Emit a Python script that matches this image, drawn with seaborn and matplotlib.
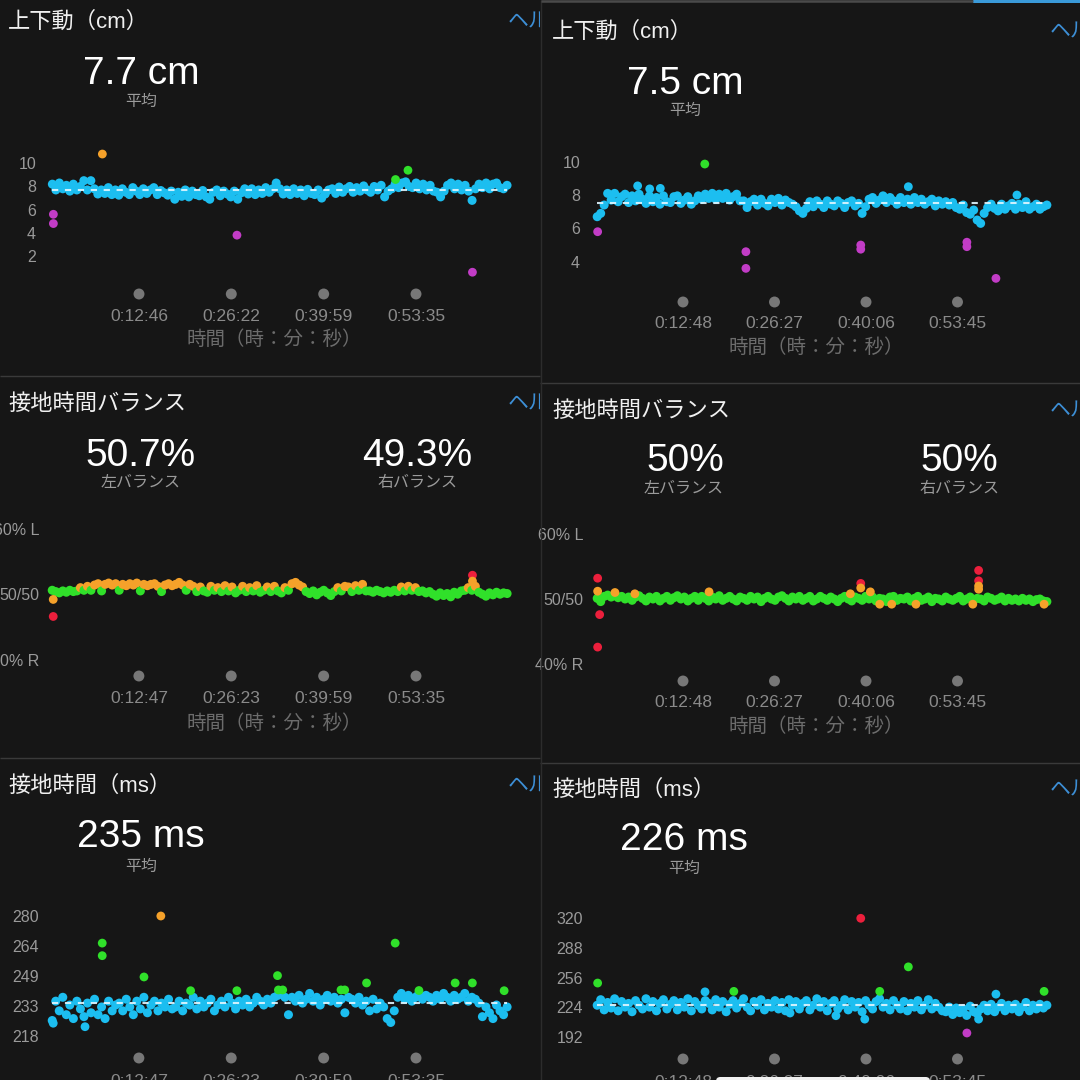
import numpy as np
import pandas as pd
import matplotlib
matplotlib.use("Agg")
import matplotlib.pyplot as plt
import seaborn as sns
from matplotlib.transforms import Bbox, TransformedBbox
from matplotlib.lines import Line2D
from matplotlib.patches import Rectangle, FancyBboxPatch

# ======================= DATA =======================
# ---- left column (run A) ----
A_TICKS_S = [766, 1582, 2399, 3215]
A_VO_TICK_LABELS = ["0:12:46", "0:26:22", "0:39:59", "0:53:35"]
A_BAL_TICK_LABELS = ["0:12:47", "0:26:23", "0:39:59", "0:53:35"]
A_GCT_TICK_LABELS = ["0:12:47", "0:26:23", "0:39:59", "0:53:35"]
A_SPAN_S = (0, 4020)

A_VO_AVG = 7.7
A_VO = [8.2, 7.7,
        8.3, 7.8, 8.1, 7.6, 8.2, 7.7, 8.0,
        8.5, 7.7, 8.5,
        7.8, 7.35, 7.7, 7.4, 7.9, 7.3, 7.7, 7.25, 7.8, 7.5, 7.3, 7.9, 7.6, 7.3, 7.8, 7.4, 7.7, 7.9, 7.3, 7.65,
        7.45, 7.25,
        7.6, 6.9, 7.5, 7.15, 7.7, 7.1, 7.6, 7.3, 7.2, 7.65, 7.1, 6.9, 7.5, 7.7, 7.2, 7.6, 7.35, 7.1, 7.6, 6.9,
        7.45,
        7.8, 7.35, 7.8, 7.3, 7.7, 7.4, 7.9, 7.5, 7.8, 8.3,
        7.8, 7.35, 7.7, 7.3, 7.8, 7.4, 7.7, 7.2, 7.75, 7.4, 7.3, 7.7, 7.0,
        7.35, 7.7, 7.8, 7.4, 7.95, 7.5, 7.8, 8.0, 7.5, 7.9, 7.6, 8.05, 7.7, 7.5, 8.0, 7.7, 8.1,
        7.1, 7.6,
        7.8, 8.2, 7.9, 8.3, 8.4, 8.0, 7.9, 8.3, 7.8, 8.2, 7.7, 8.1, 7.6,
        7.5, 7.1, 7.6,
        8.1, 8.3, 7.8, 8.2, 7.7, 8.1, 7.6, 6.8,
        7.8, 8.2, 7.9, 8.3, 7.8, 8.2, 8.3, 7.9, 7.8, 8.1]
A_VO_EXTRA_T = [9, 9, 1632, 3714, 442, 3034, 3144]
A_VO_EXTRA_V = [5.6, 4.8, 3.8, 0.6, 10.8, 8.6, 9.4]
A_VO_EXTRA_ZONE = ["purple", "purple", "purple", "purple", "orange", "green", "green"]

A_BAL_L, A_BAL_R = "50.7%", "49.3%"
A_BAL = [50.6, 50.4, 50.2, 50.5, 50.3, 50.6, 50.4, 50.5, 51.0, 50.6,
         51.2, 50.6, 51.4, 51.6, 50.5, 51.5, 51.7, 51.4, 51.6, 50.6, 51.5, 51.3, 51.6, 51.4, 51.7, 50.5,
         51.5, 51.3, 51.5, 51.6, 51.2, 50.4, 51.4, 51.6, 51.3, 51.5, 51.8, 51.4, 50.6, 51.5, 51.2,
         50.4, 51.1, 50.5, 50.3, 51.2, 50.6, 51.0, 50.4, 51.3, 50.5, 51.1, 50.2, 50.6, 51.2, 50.4, 51.0,
         50.5, 51.3, 50.3, 50.6, 51.1, 50.4, 51.2, 50.5, 50.2, 51.0, 50.6,
         51.6, 51.8, 51.4, 51.1,
         50.4, 50.1, 50.5, 49.9, 50.3, 50.6, 50.2, 49.8, 50.4,
         51.0, 50.5, 51.2, 51.1, 50.4, 51.3, 50.6, 51.5, 50.5,
         50.5, 50.3, 50.6, 50.4, 50.2, 50.5, 50.3, 50.6, 50.4, 51.1, 50.5, 51.2, 50.6, 51.0, 50.4, 50.5,
         50.2, 50.4,
         50.0, 49.7, 50.2, 49.8, 50.1, 49.6, 50.3, 50.0, 50.5, 50.6,
         51.0, 50.6, 51.2,
         50.3, 50.0, 49.7, 50.2, 49.9, 50.3, 50.0, 50.2, 50.1]
A_BAL_EXTRA_T = [9, 9, 3714, 3714]
A_BAL_EXTRA_V = [49.2, 46.6, 52.9, 52.0]

A_GCT_AVG = 235
A_GCT = [226, 236, 231, 238, 229, 234, 227, 236, 232, 228, 235, 230, 237, 229, 233, 227, 236, 231, 234,
         235, 231, 237, 233, 229, 236, 232, 238, 230, 234, 236, 231, 235, 233, 237, 232,
         233, 236, 231, 235, 234, 238, 232, 236, 233, 235, 237, 231, 234, 236, 233, 238, 235, 232, 236, 234,
         237, 233, 235, 238, 236, 234, 237, 235, 238, 239,
         240, 238, 229,
         238, 236, 239, 235, 237, 240, 236, 238, 234, 237, 239, 236, 238, 235, 237, 230, 238,
         237, 235, 238, 234, 236, 231, 237, 232, 235, 233,
         227, 225, 231,
         238, 240, 237, 239, 236, 238, 240, 237, 239, 238, 236, 239, 237, 240, 238, 236, 239, 237, 238, 240,
         236, 238, 237, 235,
         228, 233, 230, 227, 234, 231, 229, 233]
A_GCT_EXTRA_T = [9, 290, 442, 442, 811, 1223, 1632, 1991, 1999, 2037, 2552, 2585, 2778, 3031, 3241, 3561,
                 3713, 3994, 960]
A_GCT_EXTRA_V = [224.6, 222.8, 266, 259.5, 248.5, 241.4, 241.4, 249.2, 241.8, 241.8, 241.8, 241.8, 245.4,
                 266, 241.5, 245.4, 245.4, 241.4, 280]
A_GCT_EXTRA_ZONE = ["blue", "blue"] + ["green"] * 16 + ["orange"]

# ---- right column (run B) ----
B_TICKS_S = [768, 1587, 2406, 3225]
B_TICK_LABELS = ["0:12:48", "0:26:27", "0:40:06", "0:53:45"]
B_SPAN_S = (0, 4025)

B_VO_AVG = 7.5
B_VO = [6.7, 6.9, 7.4,
        8.1, 7.7, 8.1, 7.6, 7.9, 8.05, 7.55, 7.95, 7.65, 8.05, 7.75, 7.5, 7.95, 7.6, 7.85, 7.45, 7.95, 7.6,
        7.55, 7.9, 7.95, 7.5, 7.7, 7.9, 7.45, 7.65, 7.95, 7.75,
        8.05, 7.8, 8.1, 7.75, 8.05, 7.8, 8.1, 7.7, 7.9, 8.05, 7.65,
        7.65, 7.25, 7.6, 7.75, 7.4, 7.75, 7.5, 7.35, 7.75, 7.55, 7.8, 7.4, 7.7, 7.55, 7.45,
        7.3, 7.05, 6.9, 7.2,
        7.6, 7.3, 7.65, 7.45, 7.25, 7.65, 7.45, 7.35, 7.65, 7.5, 7.25, 7.55, 7.65, 7.35, 7.5,
        6.9, 7.3,
        7.75, 7.85, 7.5, 7.7, 7.95, 7.55, 7.85, 7.65, 7.45, 7.85, 7.55, 7.75, 7.45, 7.85, 7.55, 7.75, 7.45,
        7.6, 7.75, 7.35, 7.65, 7.45, 7.6,
        7.4, 7.55, 7.25, 7.15, 7.4, 6.95, 6.85, 7.1, 6.5, 6.3,
        6.9, 7.25, 7.45, 7.2, 7.05, 7.45, 7.15, 7.35, 7.5, 7.15, 7.45, 7.25, 7.6, 7.15, 7.3, 7.45, 7.15,
        7.3, 7.4]
B_VO_EXTRA_T = [362, 470, 565, 2785, 3757, 963, 4, 1331, 1331, 2359, 2359, 3309, 3309, 3569]
B_VO_EXTRA_V = [8.55, 8.37, 8.4, 8.5, 8.0, 9.86, 5.8, 4.6, 3.6, 5.0, 4.75, 5.17, 4.9, 3.0]
B_VO_EXTRA_ZONE = ["blue"] * 5 + ["green"] + ["purple"] * 8

B_BAL_L, B_BAL_R = "50%", "50%"
B_BAL = [50.1, 49.6, 50.4, 50.6, 50.3, 50.5, 50.2, 50.4, 50.0, 50.3,
         49.8, 50.3, 50.5, 50.1, 49.7, 50.3, 50.0, 50.4, 49.7, 50.1,
         50.4, 49.8, 50.2, 50.5, 50.0, 50.3, 49.7, 50.1, 50.4, 49.8,
         50.4, 50.1, 49.7, 50.3, 50.0, 50.5, 49.8, 50.1, 50.4, 50.0,
         49.7, 50.3, 50.1, 49.8, 50.4, 50.0, 50.3, 49.6, 50.1, 50.4,
         50.0, 49.8, 50.3, 50.5, 50.1, 49.7, 50.3, 50.0, 50.4, 49.8,
         50.1, 50.4, 49.7, 50.0, 50.4, 50.1, 49.8, 50.3, 50.0, 49.6,
         50.1, 50.4, 50.0, 49.7, 50.3, 50.1, 49.8, 50.4, 50.0, 50.3,
         49.7, 50.1, 50.0, 49.6, 50.3, 50.4, 49.8, 50.1, 50.0, 50.3,
         49.7, 50.1, 50.4, 49.8, 50.0, 50.3, 49.6, 50.1, 50.0, 49.7,
         50.3, 50.0, 49.8, 50.1, 50.4, 49.7, 50.0, 50.3, 49.8, 50.1,
         50.0, 49.7, 50.3, 50.1, 49.8, 50.0, 50.3, 49.7, 50.1, 49.8,
         50.0, 49.7, 50.1, 49.8, 50.0, 49.6, 49.9, 50.0, 49.7, 49.6]
B_BAL_EXTRA_T = [4, 4, 22, 4, 159, 337, 1001, 2266, 2359, 2359, 2445, 2529, 2636, 2853, 3362,
                 3414, 3414, 3414, 3414, 4000]
B_BAL_EXTRA_V = [53.2, 51.2, 47.6, 42.6, 51.0, 50.8, 51.1, 50.8, 52.4, 51.7, 51.1, 49.2, 49.2, 49.2, 49.2,
                 54.4, 52.8, 52.0, 51.5, 49.2]

B_GCT_AVG = 226
B_GCT = [226, 232, 221, 229, 223, 233, 220, 230, 224, 228,
         219, 231, 226, 222, 233, 224, 230, 220, 228, 232,
         222, 227, 231, 221, 229, 224, 233, 220, 230, 226,
         222, 231, 228, 221, 232, 224, 230, 219, 227, 231,
         223, 228, 233, 224, 220, 230, 226, 232, 221, 228,
         224, 231, 222, 229, 220, 232, 226, 230, 222, 228,
         231, 221, 226, 233, 224, 230, 220, 228, 231, 222,
         226, 232, 221, 230, 224, 229, 219, 231, 226, 222,
         230, 233, 224, 228, 221, 231, 226, 222, 230, 220,
         228, 224, 231, 221, 226, 232, 222, 228, 224, 220,
         219, 224, 216, 223, 218, 222, 215, 225, 219, 217,
         222, 226, 220, 227, 219, 224, 228, 220, 226, 222,
         227, 219, 224, 229, 220, 226, 222, 227, 223, 226]
B_GCT_EXTRA_T = [965, 1726, 2137, 2395, 3569, 3414, 4, 1223, 2529, 2785, 4000, 2359, 3309]
B_GCT_EXTRA_V = [240.5, 217.6, 214.7, 211, 238, 211, 250, 241, 241, 267.5, 241, 320, 196]
B_GCT_EXTRA_ZONE = ["blue"] * 6 + ["green"] * 5 + ["red", "purple"]

# tick values / labels
VO_A_YT = [10, 8, 6, 4, 2]
VO_B_YT = [10, 8, 6, 4]
BAL_YT = [60, 50, 40]
BAL_YT_LABELS = ["60% L", "50/50", "40% R"]
GCT_A_YT = [280, 264.5, 249, 233.5, 218]
GCT_A_YT_LABELS = ["280", "264", "249", "233", "218"]
GCT_B_YT = [320, 288, 256, 224, 192]

# ======================= STYLE =======================
BG = "#161616"
ZONE_COLORS = {"blue": "#1cbef0", "green": "#30e02a", "orange": "#f5a12a",
               "red": "#ec1f3c", "purple": "#c23cc6"}
sns.set_theme(style="dark", rc={"axes.facecolor": BG, "figure.facecolor": BG})
plt.rcParams["font.family"] = ["Liberation Sans", "Noto Sans CJK JP", "DejaVu Sans"]

W = H = 1080
fig = plt.figure(figsize=(10.8, 10.8), dpi=100, facecolor=BG)


def fx(px):
    return px / W


def fy(py):
    return 1 - py / H


def lin(p1, v1, p2, v2):
    k = (v2 - v1) / (p2 - p1)
    return lambda p: v1 + (p - p1) * k


def ftext(x, y, s, size, color, ha="left", va="center", clipx=None, **kw):
    t = fig.text(fx(x), fy(y), s, fontsize=size, color=color, ha=ha, va=va, **kw)
    if clipx is not None:
        t.set_clip_box(TransformedBbox(Bbox([[clipx[0] / W, 0], [clipx[1] / W, 1]]), fig.transFigure))
        t.set_clip_on(True)
    return t


def balance_zone(v):
    d = round(abs(v - 50), 2)
    if d <= 0.7:
        return "green"
    if d <= 2.2:
        return "orange"
    return "red"


def panel(cfg):
    col_clip = (0, 540) if cfg["col"] == 0 else (540, 1080)
    ftext(cfg["title_xy"][0], cfg["title_xy"][1], cfg["title"], 16, "#f0f0f0", clipx=col_clip)
    ftext(cfg["help_xy"][0], cfg["help_xy"][1], "ヘル", 15, "#3d8fd6", clipx=col_clip)
    for s, x, y in cfg["values"]:
        ftext(x, y, s, 28, "#ffffff", ha="center", va="center_baseline")
    for s, x, y in cfg["subs"]:
        ftext(x, y, s, 11.5, "#9b9b9b", ha="center", va="center")

    left, right, top, bottom = cfg["box"]
    ax = fig.add_axes([fx(left), fy(bottom), (right - left) / W, (bottom - top) / H])
    xm = lin(*cfg["xref"])
    ym = lin(*cfg["yref"])
    ax.set_xlim(xm(left), xm(right))
    ax.set_ylim(ym(bottom), ym(top))
    ax.set_facecolor("none")
    for sp in ax.spines.values():
        sp.set_visible(False)
    ax.grid(False)

    # main series (one sample every few seconds)
    vals = np.asarray(cfg["main"], dtype=float)
    t0, t1 = cfg["span"]
    tt = np.linspace(t0, t1, len(vals))
    if cfg["kind"] == "bal":
        zones = [balance_zone(v) for v in vals]
    else:
        zones = ["blue"] * len(vals)
    df = pd.DataFrame({"t": tt, "v": vals, "zone": zones})
    sns.scatterplot(data=df, x="t", y="v", hue="zone", palette=ZONE_COLORS, s=42,
                    linewidth=0, edgecolor="none", legend=False, ax=ax, zorder=2)
    if cfg.get("avg") is not None:
        ax.plot([tt[0], tt[-1]], [cfg["avg"], cfg["avg"]], color="#e2f6ff", lw=1.5,
                ls=(0, (3, 3.2)), zorder=4, alpha=0.9)

    # extra (isolated) points
    et, ev = cfg["extra_t"], cfg["extra_v"]
    ez = cfg.get("extra_zone") or [balance_zone(v) for v in ev]
    dfe = pd.DataFrame({"t": et, "v": ev, "zone": ez})
    sns.scatterplot(data=dfe, x="t", y="v", hue="zone", palette=ZONE_COLORS, s=40,
                    linewidth=0, edgecolor="none", legend=False, ax=ax, zorder=3)

    # x markers (grey dots) + time labels
    ticks = cfg["ticks"]
    sns.scatterplot(x=ticks, y=[ym(cfg["dots_py"])] * len(ticks), color="#777777", s=62,
                    linewidth=0, edgecolor="none", legend=False, ax=ax, zorder=2)
    for tk, lab in zip(ticks, cfg["tick_labels"]):
        ax.text(tk, ym(cfg["labels_py"]), lab, ha="center", va="center_baseline",
                fontsize=12.5, color="#8a8a8a", clip_on=False)
    if cfg.get("axlabel_xy"):
        axx, axy = cfg["axlabel_xy"]
        ax.text(xm(axx), ym(axy), "時間（時：分：秒）", ha="center", va="center",
                fontsize=14, color="#6c6c6c", clip_on=False)

    ax.set_xticks([])
    ax.set_xlabel("")
    ax.set_ylabel("")
    ax.set_yticks(cfg["yt"])
    ax.set_yticklabels(cfg["yt_labels"])
    pad_pt = (left - cfg["ytick_right"]) * 0.72
    ax.tick_params(axis="y", length=0, pad=pad_pt, labelsize=11.5, labelcolor="#9a9a9a")
    return ax


panels = [
    dict(col=0, kind="vo", title="上下動（cm）", title_xy=(8, 22), help_xy=(508, 22),
         values=[("7.7 cm", 141, 70)], subs=[("平均", 141, 101)],
         box=(44, 520, 140, 305), xref=(139, 766, 416, 3215), yref=(163.3, 10, 256, 2),
         main=A_VO, span=A_SPAN_S, avg=A_VO_AVG,
         extra_t=A_VO_EXTRA_T, extra_v=A_VO_EXTRA_V, extra_zone=A_VO_EXTRA_ZONE,
         ticks=A_TICKS_S, tick_labels=A_VO_TICK_LABELS, dots_py=294, labels_py=315,
         axlabel_xy=(274, 340), yt=VO_A_YT, yt_labels=[str(v) for v in VO_A_YT], ytick_right=36),
    dict(col=1, kind="vo", title="上下動（cm）", title_xy=(552, 32), help_xy=(1050, 32),
         values=[("7.5 cm", 685, 80)], subs=[("平均", 685, 110)],
         box=(589, 1062, 140, 312), xref=(683, 768, 957.5, 3225), yref=(161.7, 10, 261.7, 4),
         main=B_VO, span=B_SPAN_S, avg=B_VO_AVG,
         extra_t=B_VO_EXTRA_T, extra_v=B_VO_EXTRA_V, extra_zone=B_VO_EXTRA_ZONE,
         ticks=B_TICKS_S, tick_labels=B_TICK_LABELS, dots_py=302, labels_py=322,
         axlabel_xy=(816, 348), yt=VO_B_YT, yt_labels=[str(v) for v in VO_B_YT], ytick_right=580),
    dict(col=0, kind="bal", title="接地時間バランス", title_xy=(8, 404), help_xy=(508, 404),
         values=[(A_BAL_L, 141, 452), (A_BAL_R, 417, 452)],
         subs=[("左バランス", 141, 483), ("右バランス", 418, 483)],
         box=(44, 520, 515, 688), xref=(139, 767, 416, 3215), yref=(528.7, 60, 659.7, 40),
         main=A_BAL, span=A_SPAN_S, avg=None,
         extra_t=A_BAL_EXTRA_T, extra_v=A_BAL_EXTRA_V, extra_zone=None,
         ticks=A_TICKS_S, tick_labels=A_BAL_TICK_LABELS, dots_py=676, labels_py=697,
         axlabel_xy=(274, 724), yt=BAL_YT, yt_labels=BAL_YT_LABELS, ytick_right=39),
    dict(col=1, kind="bal", title="接地時間バランス", title_xy=(552, 411), help_xy=(1050, 411),
         values=[(B_BAL_L, 685, 457), (B_BAL_R, 959, 457)],
         subs=[("左バランス", 684, 489), ("右バランス", 959, 489)],
         box=(589, 1062, 520, 692), xref=(683, 768, 957.5, 3225), yref=(534, 60, 664, 40),
         main=B_BAL, span=B_SPAN_S, avg=None,
         extra_t=B_BAL_EXTRA_T, extra_v=B_BAL_EXTRA_V, extra_zone=None,
         ticks=B_TICKS_S, tick_labels=B_TICK_LABELS, dots_py=681, labels_py=701,
         axlabel_xy=(816, 727), yt=BAL_YT, yt_labels=BAL_YT_LABELS, ytick_right=583),
    dict(col=0, kind="gct", title="接地時間（ms）", title_xy=(8, 786), help_xy=(508, 786),
         values=[("235 ms", 141, 833)], subs=[("平均", 141, 866)],
         box=(44, 520, 895, 1080), xref=(139, 767, 416, 3215), yref=(916, 280, 1036, 218),
         main=A_GCT, span=A_SPAN_S, avg=A_GCT_AVG,
         extra_t=A_GCT_EXTRA_T, extra_v=A_GCT_EXTRA_V, extra_zone=A_GCT_EXTRA_ZONE,
         ticks=A_TICKS_S, tick_labels=A_GCT_TICK_LABELS, dots_py=1058, labels_py=1080,
         axlabel_xy=None, yt=GCT_A_YT, yt_labels=GCT_A_YT_LABELS, ytick_right=39),
    dict(col=1, kind="gct", title="接地時間（ms）", title_xy=(552, 790), help_xy=(1050, 790),
         values=[("226 ms", 684, 836)], subs=[("平均", 684.5, 868)],
         box=(589, 1062, 900, 1080), xref=(683, 768, 957.5, 3225), yref=(918.3, 320, 1036.7, 192),
         main=B_GCT, span=B_SPAN_S, avg=B_GCT_AVG,
         extra_t=B_GCT_EXTRA_T, extra_v=B_GCT_EXTRA_V, extra_zone=B_GCT_EXTRA_ZONE,
         ticks=B_TICKS_S, tick_labels=B_TICK_LABELS, dots_py=1059, labels_py=1081,
         axlabel_xy=None, yt=GCT_B_YT, yt_labels=[str(v) for v in GCT_B_YT], ytick_right=583),
]

for cfg in panels:
    panel(cfg)


# ----- separators & phone chrome -----
def fline(x0, y0, x1, y1, color, lw):
    fig.add_artist(Line2D([fx(x0), fx(x1)], [fy(y0), fy(y1)], color=color, lw=lw,
                          transform=fig.transFigure, solid_capstyle="butt"))


fline(0, 375.5, 540, 375.5, "#3a3a3a", 1.0)
fline(0, 757.5, 540, 757.5, "#3a3a3a", 1.0)
fline(540, 382.5, 1080, 382.5, "#3a3a3a", 1.0)
fline(540, 762.5, 1080, 762.5, "#3a3a3a", 1.0)
fline(540.5, 0, 540.5, 1080, "#2c2c2c", 1.0)
fline(541, 1.2, 973, 1.2, "#4a4a4a", 1.8)
fig.add_artist(Rectangle((fx(973), fy(3)), (1080 - 973) / W, 3 / H, transform=fig.transFigure,
                         facecolor="#3a9ad9", edgecolor="none"))
fig.add_artist(FancyBboxPatch((fx(716), fy(1086)), (930 - 716) / W, 9 / H,
                              boxstyle="round,pad=0,rounding_size=0.004",
                              transform=fig.transFigure, facecolor="#f2f2f2", edgecolor="none"))

fig.savefig("out.png", dpi=100, facecolor=BG)
